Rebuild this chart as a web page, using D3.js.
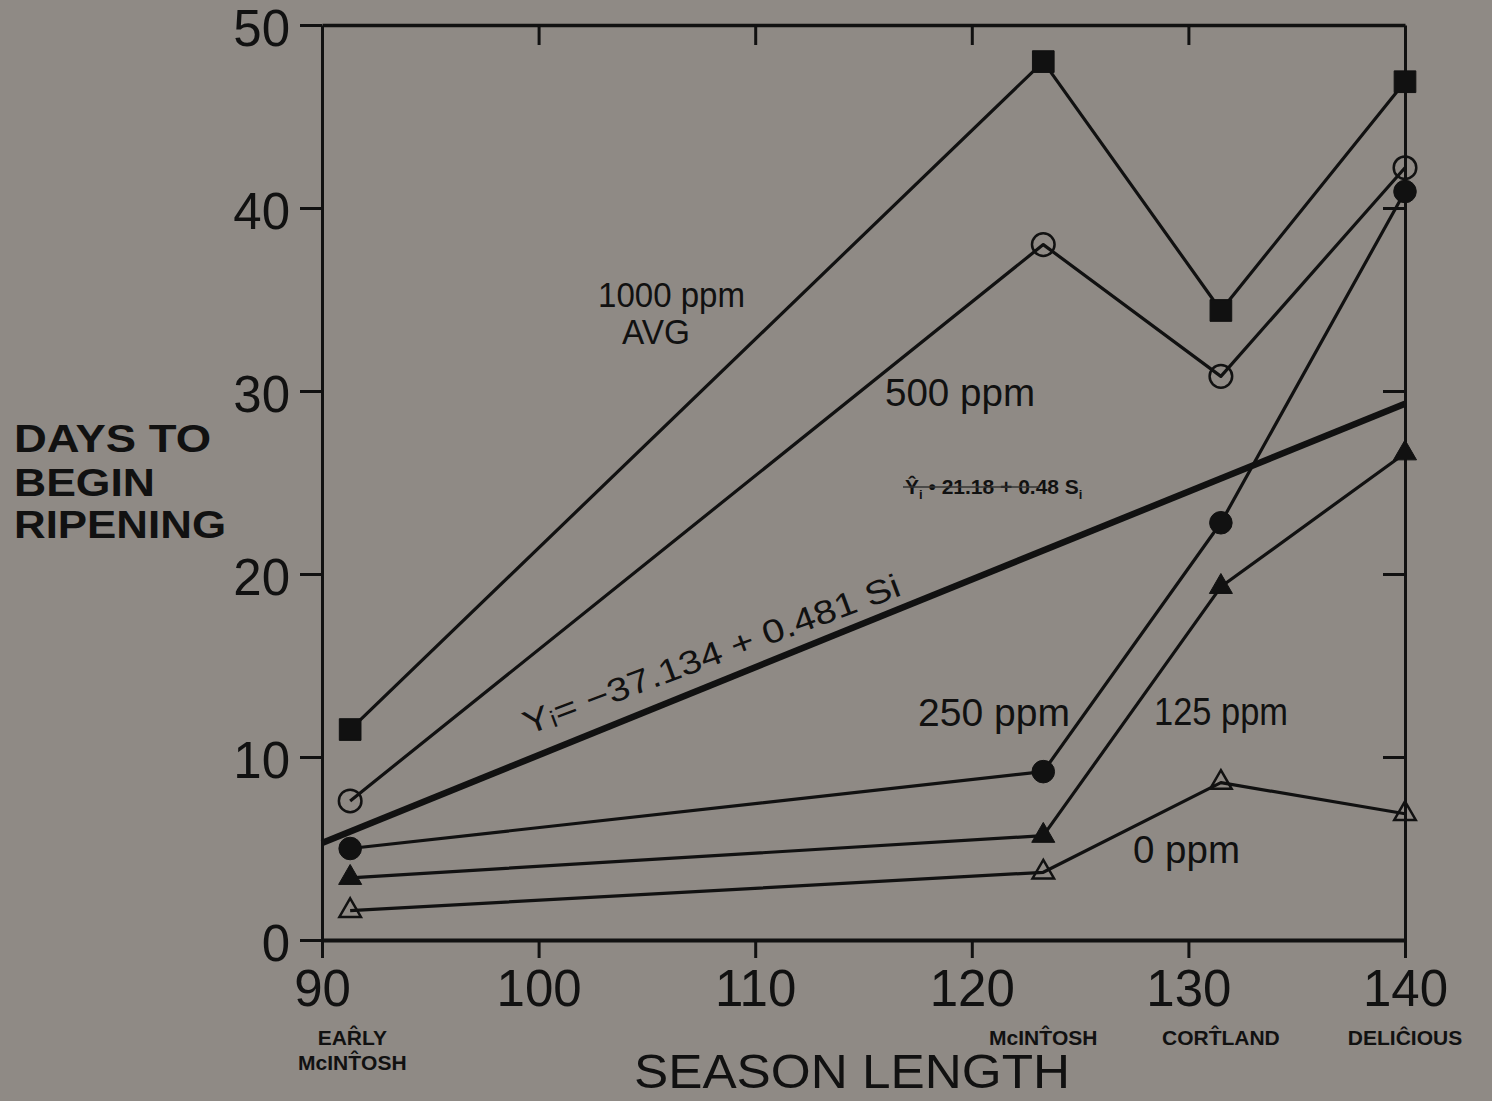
<!DOCTYPE html>
<html>
<head>
<meta charset="utf-8">
<script src="https://cdn.jsdelivr.net/npm/d3@7"></script>
<style>
  html, body { margin: 0; padding: 0; background: #8f8a85; }
  svg { display: block; }
  text { fill: #111; font-family: "Liberation Sans", Arial, sans-serif; }
</style>
</head>
<body>
<svg width="1492" height="1101"></svg>
<script>
(function() {
    const svg = d3.select('svg');
    const INK = '#111';

    // season length (days) of each variety
    const seasonDays = [91.3, 123.3, 131.5, 140];
    const varietyLabels = [['EAR\u0302LY', 'McINT\u0302OSH'], ['McINT\u0302OSH'], ['CORT\u0302LAND'], ['DELIC\u0302IOUS']];

    // days to begin ripening, per concentration
    const ppm1000 = [11.5, 48.0, 34.4, 46.9];
    const ppm500  = [7.6, 38.0, 30.8, 42.2];
    const ppm250  = [5.0, 9.2, 22.8, 40.9];
    const ppm125  = [3.4, 5.7, 19.3, 26.6];
    const ppm0    = [1.6, 3.7, 8.6, 6.9];

    // fitted regression line end points
    const regDays = [90, 140];
    const regFit  = [5.3, 29.3];

    const xTicks = [90, 100, 110, 120, 130, 140];
    const yTicks = [0, 10, 20, 30, 40, 50];

    const x = d3.scaleLinear().domain([90, 140]).range([322, 1405]);
    const y = d3.scaleLinear().domain([0, 50]).range([940, 25]);

    const series = [
        { values: ppm1000, symbol: d3.symbolSquare,   size: 470, filled: true },
        { values: ppm500,  symbol: d3.symbolCircle,   size: 400, filled: false },
        { values: ppm250,  symbol: d3.symbolCircle,   size: 400, filled: true },
        { values: ppm125,  symbol: d3.symbolTriangle, size: 230, filled: true },
        { values: ppm0,    symbol: d3.symbolTriangle, size: 200, filled: false }
    ];

    // axes
    const styleAxis = (g, w) => {
        g.select('.domain').attr('stroke', INK).attr('stroke-width', w);
        g.selectAll('.tick line').attr('stroke', INK).attr('stroke-width', 3);
        g.selectAll('.tick text')
            .attr('fill', INK)
            .attr('font-family', '"Liberation Sans", Arial, sans-serif')
            .attr('font-size', 51);
    };

    svg.append('g')
        .attr('transform', `translate(0, ${y(50)})`)
        .call(d3.axisTop(x).tickValues([100, 110, 120, 130]).tickSize(-20).tickSizeOuter(0).tickFormat(''))
        .call(g => styleAxis(g, 3.5));

    svg.append('g')
        .attr('transform', `translate(${x(140)}, 0)`)
        .call(d3.axisRight(y).tickValues([10, 20, 30, 40]).tickSize(-22).tickSizeOuter(0).tickFormat(''))
        .call(g => styleAxis(g, 3));

    svg.append('g')
        .attr('transform', `translate(${x(90)}, 0)`)
        .call(d3.axisLeft(y).tickValues(yTicks).tickSize(22).tickSizeOuter(0).tickPadding(10))
        .call(g => styleAxis(g, 3))
        .call(g => g.selectAll('.tick text').attr('dy', '0.4em'));

    svg.append('g')
        .attr('transform', `translate(0, ${y(0)})`)
        .call(d3.axisBottom(x).tickValues(xTicks).tickSize(18).tickSizeOuter(0).tickPadding(12))
        .call(g => styleAxis(g, 4));

    // variety names under the x ticks
    const varieties = svg.append('g')
        .selectAll('text')
        .data(seasonDays)
        .enter()
        .append('text')
        .attr('text-anchor', 'middle')
        .attr('font-weight', 'bold')
        .attr('font-size', 21);
    varieties.each(function(d, i) {
        d3.select(this).selectAll('tspan')
            .data(varietyLabels[i])
            .enter()
            .append('tspan')
            .attr('x', x(i === 0 ? 91.4 : d))
            .attr('y', (t, j) => 1045 + j * 25)
            .text(t => t);
    });

    // connecting lines
    const line = d3.line()
        .x((d, i) => x(seasonDays[i]))
        .y(d => y(d));

    svg.append('g')
        .selectAll('path')
        .data(series)
        .enter()
        .append('path')
        .attr('d', d => line(d.values))
        .attr('fill', 'none')
        .attr('stroke', INK)
        .attr('stroke-width', 3.2)
        .attr('stroke-linejoin', 'round');

    // regression line
    const regLine = d3.line()
        .x((d, i) => x(regDays[i]))
        .y(d => y(d));
    svg.append('path')
        .attr('d', regLine(regFit))
        .attr('fill', 'none')
        .attr('stroke', INK)
        .attr('stroke-width', 6.5);

    // markers
    series.forEach(s => {
        svg.append('g')
            .selectAll('path')
            .data(s.values)
            .enter()
            .append('path')
            .attr('transform', (d, i) => `translate(${x(seasonDays[i])}, ${y(d)})`)
            .attr('d', d3.symbol().type(s.symbol).size(s.size))
            .attr('fill', s.filled ? INK : 'none')
            .attr('stroke', INK)
            .attr('stroke-width', s.filled ? 1 : 2.5);
    });

    // series labels
    const labels = [
        { t: '1000 ppm', x: 598, y: 307, len: 147, fs: 35 },
        { t: 'AVG',      x: 622, y: 344, len: 68,  fs: 35 },
        { t: '500 ppm',  x: 885, y: 406, len: 150, fs: 38 },
        { t: '250 ppm',  x: 918, y: 726, len: 152, fs: 38 },
        { t: '125 ppm',  x: 1154, y: 725, len: 134, fs: 38 },
        { t: '0 ppm',    x: 1133, y: 863, len: 107, fs: 38 }
    ];
    svg.append('g')
        .selectAll('text')
        .data(labels)
        .enter()
        .append('text')
        .attr('x', d => d.x)
        .attr('y', d => d.y)
        .attr('font-size', d => d.fs)
        .attr('textLength', d => d.len)
        .attr('lengthAdjust', 'spacingAndGlyphs')
        .text(d => d.t);

    // axis titles
    svg.append('text')
        .attr('font-size', 38)
        .attr('font-weight', 'bold')
        .selectAll('tspan')
        .data(['DAYS TO', 'BEGIN', 'RIPENING'])
        .enter()
        .append('tspan')
        .attr('x', 14)
        .attr('y', (d, i) => [452, 496, 538][i])
        .attr('textLength', (d, i) => [197, 141, 212][i])
        .attr('lengthAdjust', 'spacingAndGlyphs')
        .text(d => d);

    svg.append('text')
        .attr('x', 852)
        .attr('y', 1088)
        .attr('text-anchor', 'middle')
        .attr('font-size', 48)
        .attr('textLength', 436)
        .attr('lengthAdjust', 'spacingAndGlyphs')
        .text('SEASON LENGTH');

    // printed equation, struck through
    const eq = svg.append('text')
        .attr('x', 905)
        .attr('y', 494)
        .attr('font-size', 21)
        .attr('font-weight', 'bold')
        .attr('fill', '#222');
    eq.append('tspan').text('Y\u0302');
    eq.append('tspan').attr('font-size', 13).attr('dy', 5).text('i');
    eq.append('tspan').attr('dy', -5).text(' \u2022 21.18 + 0.48 S');
    eq.append('tspan').attr('font-size', 13).attr('dy', 5).text('i');
    svg.append('line')
        .attr('x1', 903).attr('x2', 1040)
        .attr('y1', 487).attr('y2', 487)
        .attr('stroke', '#333')
        .attr('stroke-width', 1.5);

    // handwritten equation along the fitted line
    svg.append('text')
        .attr('transform', 'translate(528, 735) rotate(-20.5)')
        .attr('font-family', '"DejaVu Sans", sans-serif')
        .attr('font-weight', 200)
        .attr('font-size', 33)
        .attr('fill', '#4f4b48')
        .attr('textLength', 400)
        .attr('lengthAdjust', 'spacingAndGlyphs')
        .text('Y\u1d62= \u221237.134 + 0.481 Si');
})();
</script>
</body>
</html>
